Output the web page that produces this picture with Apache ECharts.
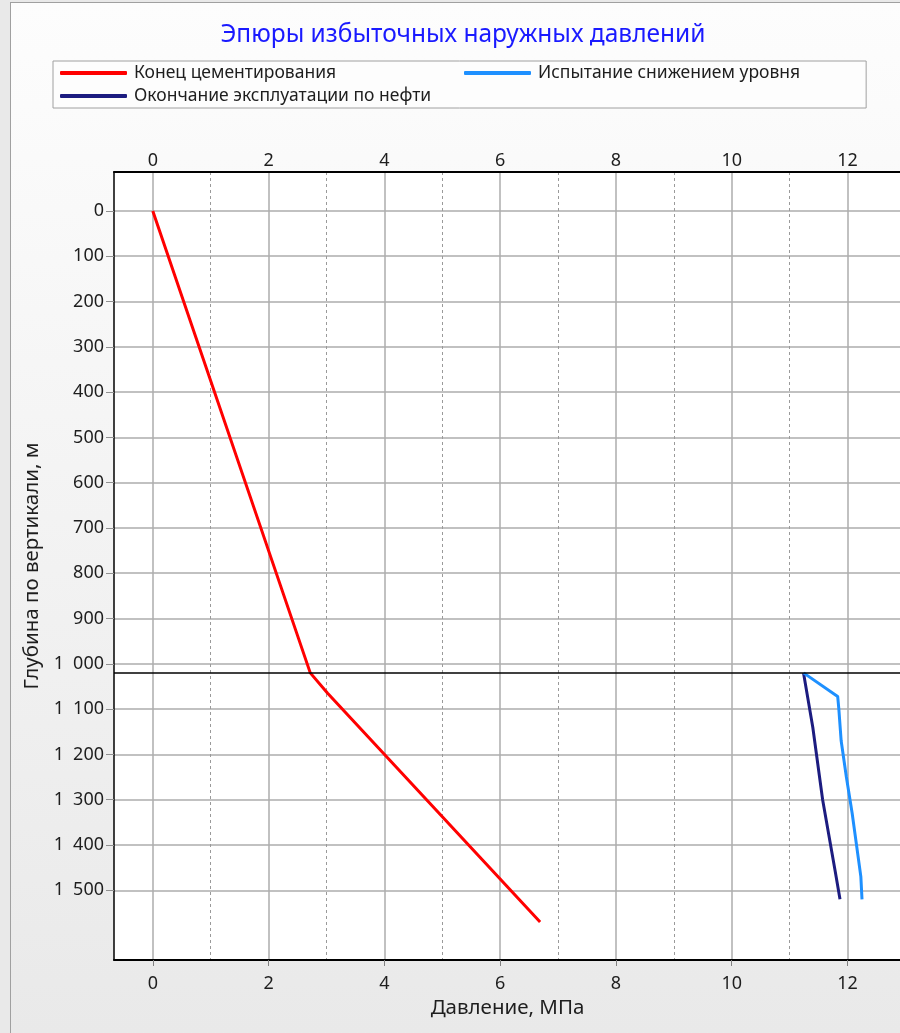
<!DOCTYPE html>
<html><head><meta charset="utf-8">
<script src="https://cdn.jsdelivr.net/npm/echarts@6/dist/echarts.min.js"></script>
<style>
html,body{margin:0;padding:0;width:900px;height:1033px;overflow:hidden;background:#e9e9e9;}
#panel{position:absolute;left:10px;top:2px;width:890px;height:1031px;box-sizing:border-box;border-left:1px solid #a0a0a0;border-top:1px solid #a0a0a0;background:linear-gradient(#fdfdfd,#e9e9e9);}
#chart{position:absolute;left:0;top:0;width:900px;height:1033px;}
</style></head><body><div id="panel"></div><div id="chart"></div>
<script>
const titleText = 'Эпюры избыточных наружных давлений';
const seriesNames = ['Конец цементирования', 'Окончание эксплуатации по нефти', 'Испытание снижением уровня'];
const cementDepth = [0, 1020, 1065, 1570];
const cementPressure = [0, 2.72, 3.02, 6.69];
const oilDepth = [1020, 1140, 1300, 1460, 1520];
const oilPressure = [11.24, 11.40, 11.57, 11.79, 11.87];
const testDepth = [1020, 1072, 1100, 1170, 1250, 1330, 1470, 1520];
const testPressure = [11.24, 11.83, 11.85, 11.89, 11.98, 12.08, 12.23, 12.25];
const shoeDepth = 1020;
const xTicks = [0, 2, 4, 6, 8, 10, 12];
const yTicks = [0, 100, 200, 300, 400, 500, 600, 700, 800, 900, 1000, 1100, 1200, 1300, 1400, 1500];
const xName = 'Давление, МПа';
const yName = 'Глубина по вертикали, м';

const FONT = 'Noto Sans';
const TXT = '#1e1e1e';
function pairs(xs, ys) { return xs.map((x, i) => [x, ys[i]]); }
function fmtDepth(v) { return String(v).replace(/\B(?=(\d{3})+(?!\d))/g, '\u2002'); }

const legendCommon = {
  orient: 'vertical', itemGap: 5, itemWidth: 67, itemHeight: 4, icon: 'roundRect', selectedMode: false,
  textStyle: {fontFamily: FONT, fontSize: 17.5, color: TXT, padding: [0, 0, 0, 2]}
};

const chart = echarts.init(document.getElementById('chart'), null, {renderer: 'canvas'});
const xRange = {min: -0.67, max: 13.2};
chart.setOption({
  animation: false,
  textStyle: {fontFamily: FONT},
  title: {
    text: titleText, left: 458, top: 18, textAlign: 'center',
    textStyle: {fontFamily: FONT, fontSize: 24.5, fontWeight: 'normal', color: '#1a1aff'}
  },
  legend: [
    Object.assign({}, legendCommon, {
      left: 53, top: 61, data: [seriesNames[0], seriesNames[1]],
      padding: [3, 435, 3, 7], backgroundColor: '#fdfdfd', borderColor: '#a0a0a0', borderWidth: 1
    }),
    Object.assign({}, legendCommon, {
      left: 464, top: 61, data: [seriesNames[2]],
      padding: [3, 0, 0, 0]
    })
  ],
  grid: {left: 114, top: 172, width: 803, height: 788, show: true, backgroundColor: '#ffffff', borderWidth: 0,
    outerBoundsMode: 'none', containLabel: false},
  xAxis: [
    {
      type: 'value', position: 'bottom', min: xRange.min, max: xRange.max, splitNumber: 7,
      axisLine: {onZero: false, lineStyle: {color: '#000', width: 2}},
      axisTick: {show: true, customValues: xTicks, length: 6, lineStyle: {color: '#808080'}},
      axisLabel: {customValues: xTicks, fontSize: 18, color: TXT, margin: 15, fontFamily: FONT},
      splitLine: {show: true, lineStyle: {color: '#acacac', width: 1.5}},
      minorTick: {show: false, splitNumber: 2},
      minorSplitLine: {show: true, lineStyle: {color: '#9a9a9a', width: 1, type: [3, 3]}},
      name: xName, nameLocation: 'middle', nameGap: 38,
      nameTextStyle: {fontSize: 20.5, color: TXT, fontFamily: FONT, padding: [0, 16, 0, 0]}
    },
    {
      type: 'value', position: 'top', min: xRange.min, max: xRange.max, splitNumber: 7,
      axisLine: {onZero: false, lineStyle: {color: '#000', width: 2}},
      axisTick: {show: false, customValues: xTicks},
      axisLabel: {customValues: xTicks, fontSize: 18, color: TXT, margin: 2, fontFamily: FONT},
      splitLine: {show: false}
    }
  ],
  yAxis: {
    type: 'value', inverse: true, min: -86, max: 1654,
    axisLine: {onZero: false, lineStyle: {color: '#000', width: 1.5}},
    axisTick: {show: true, customValues: yTicks, length: 8, lineStyle: {color: '#909090'}},
    axisLabel: {customValues: yTicks, formatter: fmtDepth, fontSize: 18, color: TXT, margin: 10, fontFamily: FONT},
    splitLine: {show: true, lineStyle: {color: '#acacac', width: 1.5}},
    name: yName, nameLocation: 'middle', nameGap: 63, nameRotate: 90,
    nameTextStyle: {fontSize: 20.5, color: TXT, fontFamily: FONT}
  },
  series: [
    {
      name: seriesNames[0], type: 'line', xAxisIndex: 0, symbol: 'none',
      lineStyle: {color: '#ff0000', width: 3}, itemStyle: {color: '#ff0000'},
      data: pairs(cementPressure, cementDepth),
      markLine: {
        silent: true, symbol: 'none', label: {show: false},
        lineStyle: {color: '#000000', width: 1.5, type: 'solid'},
        data: [{yAxis: shoeDepth}]
      }
    },
    {
      name: seriesNames[1], type: 'line', xAxisIndex: 0, symbol: 'none',
      lineStyle: {color: '#1c1c80', width: 3}, itemStyle: {color: '#1c1c80'},
      data: pairs(oilPressure, oilDepth)
    },
    {
      name: seriesNames[2], type: 'line', xAxisIndex: 0, symbol: 'none',
      lineStyle: {color: '#1e90ff', width: 3}, itemStyle: {color: '#1e90ff'},
      data: pairs(testPressure, testDepth)
    }
  ]
});
</script></body></html>
